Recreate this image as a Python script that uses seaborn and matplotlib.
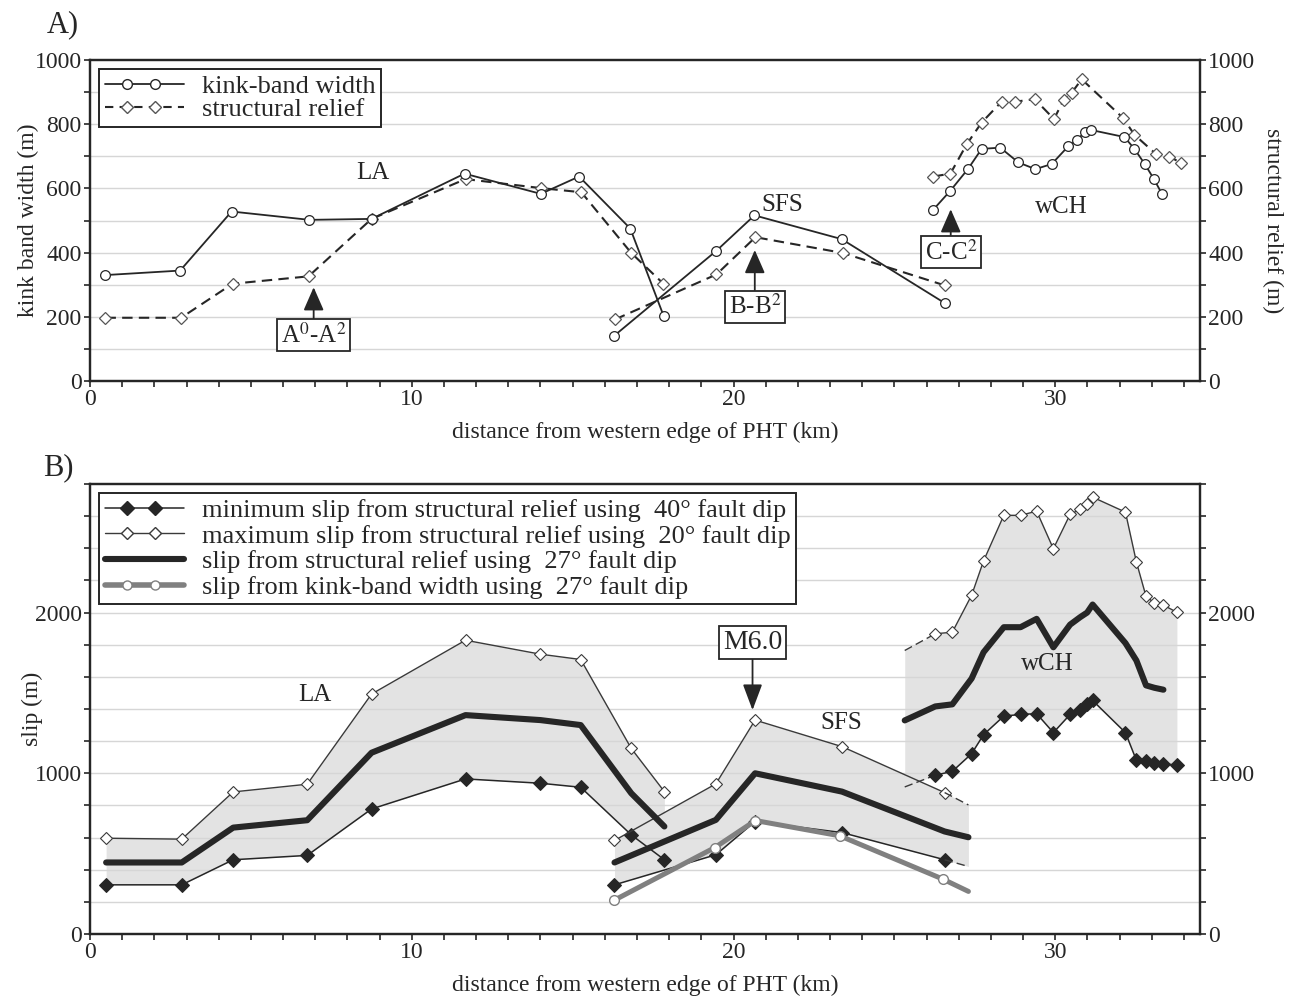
import numpy as np
import seaborn as sns
import matplotlib.pyplot as plt
from matplotlib.lines import Line2D
from matplotlib.legend_handler import HandlerLine2D
from matplotlib.ticker import MultipleLocator

# ---- panel A: kink-band width and structural relief (m) ----
la_kink_x = [0.48, 2.80, 4.40, 6.82, 8.75, 11.64, 14.01, 15.20, 16.79, 17.83]
la_kink_y = [330, 344, 528, 502, 505, 646, 583, 637, 475, 202]
la_rel_x = [0.48, 2.83, 4.43, 6.79, 8.75, 11.67, 14.01, 15.27, 16.82, 17.82]
la_rel_y = [197, 197, 303, 326, 505, 629, 601, 588, 399, 303]

sfs_kink_x = [16.28, 19.47, 20.65, 23.36, 26.56]
sfs_kink_y = [140, 406, 516, 442, 243]
sfs_rel_x = [16.32, 19.47, 20.68, 23.39, 26.56]
sfs_rel_y = [192, 332, 448, 399, 298]

wch_kink_x = [26.21, 26.74, 27.29, 27.71, 28.29, 28.85, 29.38, 29.89, 30.40,
              30.68, 30.93, 31.11, 32.15, 32.46, 32.78, 33.06, 33.32]
wch_kink_y = [534, 593, 661, 723, 727, 681, 660, 676, 731,
              751, 777, 782, 760, 723, 676, 630, 582]
wch_rel_x = [26.21, 26.74, 27.25, 27.71, 28.33, 28.74, 29.36, 29.96, 30.26,
             30.51, 30.82, 32.11, 32.46, 33.13, 33.54, 33.92]
wch_rel_y = [637, 646, 738, 805, 870, 870, 878, 816, 876,
             898, 940, 819, 767, 707, 699, 679]

# ---- panel B: slip (m) ----
la_b_x = [0.5, 2.85, 4.45, 6.75, 8.75, 11.67, 14.0, 15.25, 16.82, 17.85]
la_max = [596, 590, 884, 932, 1493, 1828, 1741, 1708, 1155, 886]
la_min = [306, 306, 462, 489, 778, 965, 938, 913, 617, 462]
la_mid = [445, 445, 662, 708, 1128, 1362, 1331, 1300, 876, 669]

sfs_b_x = [16.3, 19.45, 20.67, 23.37, 26.56, 27.3]
sfs_max = [582, 934, 1331, 1166, 880, 803]
sfs_min = [306, 493, 700, 631, 462, 420]
sfs_mid = [445, 710, 1000, 886, 638, 602]
sfs_kb_x = [16.28, 19.42, 20.68, 23.3, 26.5, 27.3]
sfs_kb = [209, 538, 706, 611, 342, 265]

wch_b_x = [25.32, 26.27, 26.8, 27.4, 27.77, 28.4, 28.92, 29.42, 29.94, 30.46,
           30.77, 30.99, 31.16, 32.18, 32.52, 32.82, 33.08, 33.36, 33.78]
wch_max = [1764, 1868, 1878, 2108, 2321, 2605, 2605, 2631, 2397, 2611,
           2642, 2673, 2718, 2625, 2315, 2101, 2060, 2046, 2002]
wch_min = [915, 988, 1012, 1122, 1240, 1356, 1366, 1371, 1253, 1366,
           1391, 1429, 1453, 1253, 1081, 1076, 1064, 1060, 1050]
wch_mid = [1329, 1416, 1429, 1590, 1753, 1909, 1909, 1961, 1784, 1925,
           1971, 2000, 2050, 1810, 1702, 1547, 1532, 1520]

sns.set_theme(style='ticks')
plt.rcParams['font.family'] = ['Liberation Serif', 'DejaVu Serif']
plt.rcParams['mathtext.fontset'] = 'stix'

DARK = '#262626'
GREY = '#808080'
FILL = '#e3e3e3'
GRID = '#d6d6d6'


class TwoMarkHandler(HandlerLine2D):
    # line runs the full handle width, the two markers sit inside it
    def create_artists(self, legend, orig_handle, xdescent, ydescent,
                       width, height, fontsize, trans):
        y = (height - ydescent) / 2
        x0 = -xdescent
        legline = Line2D([x0, x0 + width], [y, y])
        self.update_prop(legline, orig_handle, legend)
        legline.set_marker('None')
        legmark = Line2D(x0 + width * np.array([0.28, 0.64]), [y, y])
        self.update_prop(legmark, orig_handle, legend)
        legmark.set_linestyle('None')
        legline.set_transform(trans)
        legmark.set_transform(trans)
        return [legline, legmark]


def line(ax, x, y, **kw):
    kw.setdefault('color', DARK)
    sns.lineplot(x=x, y=y, ax=ax, sort=False, estimator=None, **kw)


def style_axes(ax, ymax, ymajor, yminor, right_label=None):
    ax.set_xlim(0, 34.5)
    ax.set_ylim(0, ymax)
    ax.xaxis.set_major_locator(MultipleLocator(10))
    ax.xaxis.set_minor_locator(MultipleLocator(1))
    ax.yaxis.set_major_locator(MultipleLocator(ymajor))
    ax.yaxis.set_minor_locator(MultipleLocator(yminor))
    for y in np.arange(yminor, ymax, yminor):
        ax.axhline(y, color=GRID, lw=1.0, zorder=0.5)
    for s in ax.spines.values():
        s.set_visible(True)
        s.set_linewidth(1.6)
        s.set_color(DARK)
    ax.tick_params(which='both', direction='out', labelsize=17, color=DARK,
                   width=1.2, length=4, pad=2)
    ax.set_xlabel('distance from western edge of PHT (km)', fontsize=17, labelpad=8)
    tw = ax.twinx()
    tw.set_ylim(0, ymax)
    tw.yaxis.set_major_locator(MultipleLocator(ymajor))
    tw.yaxis.set_minor_locator(MultipleLocator(yminor))
    tw.tick_params(which='both', direction='out', labelsize=17, color=DARK,
                   width=1.2, length=4, pad=2)
    for s in tw.spines.values():
        s.set_linewidth(1.6)
        s.set_color(DARK)
    if right_label:
        tw.set_ylabel(right_label, fontsize=17, rotation=270, labelpad=20)
    return tw


fig = plt.figure(figsize=(12.9, 10), dpi=100)
axA = fig.add_axes([0.0698, 0.619, 0.8605, 0.321])
axB = fig.add_axes([0.0698, 0.066, 0.8605, 0.450])

# ---------------- panel A ----------------
style_axes(axA, 1000, 200, 100, right_label='structural relief (m)')
axA.set_ylabel('kink band width (m)', fontsize=17, labelpad=-3)

kink_kw = dict(lw=1.3, marker='o', markersize=7, markerfacecolor='white',
               markeredgecolor=DARK, markeredgewidth=0.9, zorder=3)
rel_kw = dict(lw=1.5, linestyle=(0, (5, 3)), marker='D', markersize=6.5,
              markerfacecolor='white', markeredgecolor='#555555',
              markeredgewidth=0.9, zorder=3)
for x, y in [(la_rel_x, la_rel_y), (sfs_rel_x, sfs_rel_y), (wch_rel_x, wch_rel_y)]:
    line(axA, x, y, **rel_kw)
for x, y in [(la_kink_x, la_kink_y), (sfs_kink_x, sfs_kink_y), (wch_kink_x, wch_kink_y)]:
    line(axA, x, y, **kink_kw)

for t, x, y in [('LA', 8.78, 648), ('SFS', 21.5, 548), ('wCH', 30.2, 543)]:
    axA.text(x, y, t, fontsize=18, ha='center', va='center', color=DARK)

box = dict(boxstyle='square,pad=0.15', fc='white', ec=DARK, lw=1.3)
for t, x, ytip, ybox in [(r'A$^{0}$-A$^{2}$', 6.95, 292, 143),
                         (r'B-B$^{2}$', 20.66, 408, 231),
                         (r'C-C$^{2}$', 26.75, 535, 402)]:
    axA.annotate(t, xy=(x, ytip), xytext=(x, ybox), ha='center', va='center',
                 fontsize=18, bbox=box, zorder=5,
                 arrowprops=dict(arrowstyle='-|>,head_length=0.8,head_width=0.35',
                                 color=DARK, lw=1.3, shrinkA=0, shrinkB=0))

hA = [Line2D([], [], color=DARK, lw=1.3, marker='o', ms=7, mfc='white', mec=DARK),
      Line2D([], [], color=DARK, lw=1.5, ls=(0, (4, 3)), marker='D', ms=6.5,
             mfc='white', mec='#555555')]
legA = axA.legend(hA, ['kink-band width', 'structural relief'], loc='upper left',
                  fontsize=19, handlelength=3.0, labelspacing=0.0,
                  borderpad=0.2, borderaxespad=0.35, handletextpad=0.7,
                  fancybox=False, framealpha=1, edgecolor=DARK,
                  handler_map={Line2D: TwoMarkHandler()})
legA.get_frame().set_linewidth(1.4)
legA.set_zorder(6)

# ---------------- panel B ----------------
style_axes(axB, 2800, 1000, 200)
axB.set_ylabel('slip (m)', fontsize=17, labelpad=-6)

axB.fill_between(la_b_x, la_min, la_max, color=FILL, lw=0, zorder=0.3)
axB.fill_between(sfs_b_x, sfs_min, sfs_max, color=FILL, lw=0, zorder=0.3)
axB.fill_between(wch_b_x, wch_min, wch_max, color=FILL, lw=0, zorder=0.3)

max_kw = dict(lw=1.0, marker='D', markersize=6.5, markerfacecolor='white',
              markeredgecolor='#3a3a3a', markeredgewidth=0.8, color='#3a3a3a', zorder=3)
min_kw = dict(lw=1.1, marker='D', markersize=7, markerfacecolor=DARK,
              markeredgecolor=DARK, zorder=3)
dash_kw = dict(lw=1.0, linestyle=(0, (6, 3)), color='#3a3a3a', zorder=3)

# LA
line(axB, la_b_x, la_max, **max_kw)
line(axB, la_b_x, la_min, **min_kw)
line(axB, la_b_x, la_mid, lw=4.4, zorder=4)
# SFS (last segment dashed)
line(axB, sfs_b_x[:-1], sfs_max[:-1], **max_kw)
line(axB, sfs_b_x[-2:], sfs_max[-2:], **dash_kw)
line(axB, sfs_b_x[:-1], sfs_min[:-1], **min_kw)
line(axB, sfs_b_x[-2:], sfs_min[-2:], **dash_kw)
line(axB, sfs_b_x, sfs_mid, lw=4.4, zorder=4)
line(axB, sfs_kb_x, sfs_kb, lw=3.6, color=GREY, zorder=4)
axB.plot(sfs_kb_x[:-1], sfs_kb[:-1], ls='none', marker='o', ms=7, mfc='white',
         mec=GREY, mew=1.0, zorder=5)
# wCH (first segment dashed)
line(axB, wch_b_x[:2], wch_max[:2], **dash_kw)
line(axB, wch_b_x[1:], wch_max[1:], **max_kw)
line(axB, wch_b_x[:2], wch_min[:2], **dash_kw)
line(axB, wch_b_x[1:], wch_min[1:], **min_kw)
line(axB, wch_b_x[:len(wch_mid)], wch_mid, lw=4.4, zorder=4)

for t, x, y in [('LA', 6.98, 1490), ('SFS', 23.35, 1310), ('wCH', 29.75, 1683)]:
    axB.text(x, y, t, fontsize=18, ha='center', va='center', color=DARK)

axB.annotate('M6.0', xy=(20.59, 1393), xytext=(20.59, 1815), ha='center', va='center',
             fontsize=20, bbox=dict(boxstyle='square,pad=0.15', fc='white', ec=DARK, lw=1.3),
             arrowprops=dict(arrowstyle='-|>,head_length=0.8,head_width=0.3',
                             color=DARK, lw=1.3, shrinkA=0, shrinkB=0), zorder=5)

hB = [Line2D([], [], color=DARK, lw=1.1, marker='D', ms=7, mfc=DARK, mec=DARK),
      Line2D([], [], color='#3a3a3a', lw=1.0, marker='D', ms=6.5, mfc='white', mec='#3a3a3a'),
      Line2D([], [], color=DARK, lw=4.4),
      Line2D([], [], color=GREY, lw=4.0, marker='o', ms=6.5, mfc='white', mec=GREY)]
labB = ['minimum slip from structural relief using  40° fault dip',
        'maximum slip from structural relief using  20° fault dip',
        'slip from structural relief using  27° fault dip',
        'slip from kink-band width using  27° fault dip']
legB = axB.legend(hB, labB, loc='upper left', fontsize=19,
                  handlelength=3.0, labelspacing=0.08, borderpad=0.2,
                  borderaxespad=0.35, handletextpad=0.7, fancybox=False,
                  framealpha=1, edgecolor=DARK,
                  handler_map={Line2D: TwoMarkHandler()})
legB.get_frame().set_linewidth(1.4)
legB.set_zorder(6)

fig.text(0.036, 0.975, 'A)', fontsize=22, va='center', color=DARK)
fig.text(0.033, 0.532, 'B)', fontsize=22, va='center', color=DARK)

fig.savefig('out.png', dpi=100, facecolor='white')
